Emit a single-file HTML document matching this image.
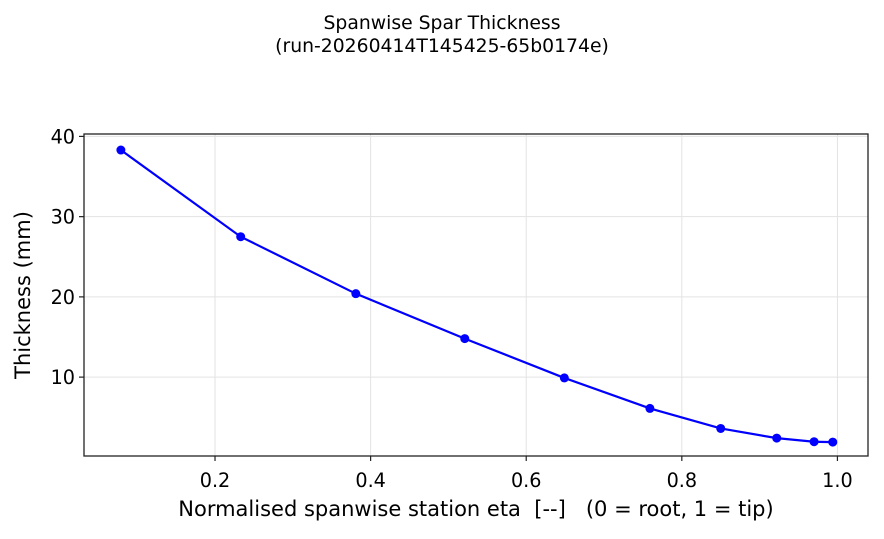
<!DOCTYPE html>
<html><head><meta charset="utf-8"><style>
body{margin:0;background:#fff;}
svg text{font-family:"DejaVu Sans","Liberation Sans",sans-serif;fill:#000;white-space:pre;}
</style></head><body>
<svg width="884" height="534" viewBox="0 0 884 534">
<text x="442" y="29" text-anchor="middle" font-size="18.8">Spanwise Spar Thickness</text>
<text x="442" y="52" text-anchor="middle" font-size="18.8">(run-20260414T145425-65b0174e)</text>
<g id="grid"></g>
<g id="ticks"></g>
<g id="series"></g>
<rect x="84" y="134" width="784" height="322" fill="none" stroke="#222" stroke-width="1.3"/>
<text x="476" y="516" text-anchor="middle" font-size="21" xml:space="preserve">Normalised spanwise station eta  [--]   (0 = root, 1 = tip)</text>
<text transform="translate(30,295) rotate(-90)" text-anchor="middle" font-size="21">Thickness (mm)</text>
</svg>
<script>
const eta=[0.079,0.233,0.381,0.521,0.649,0.759,0.850,0.922,0.970,0.994];
const thickness=[38.3,27.5,20.4,14.8,9.9,6.1,3.6,2.4,1.95,1.9];
const xTicks=[0.2,0.4,0.6,0.8,1.0];
const xTickLabels=["0.2","0.4","0.6","0.8","1.0"];
const yTicks=[10,20,30,40];
const yTickLabels=["10","20","30","40"];
const L=84,R=868,T=134,B=456;
const xmin=0.0316,xmax=1.0393,ymin=0.17,ymax=40.3;
const X=v=>L+(v-xmin)/(xmax-xmin)*(R-L);
const Y=v=>B-(v-ymin)/(ymax-ymin)*(B-T);
const NS="http://www.w3.org/2000/svg";
function mk(t,a,p){const e=document.createElementNS(NS,t);for(const k in a)e.setAttribute(k,a[k]);p.appendChild(e);return e;}
const g=document.getElementById('grid'),tk=document.getElementById('ticks'),s=document.getElementById('series');
xTicks.forEach((v,i)=>{
 const l=mk('line',{x1:X(v),x2:X(v),y1:T,y2:B,stroke:'#e3e3e3','stroke-width':1},g);
 
 
 const t=mk('line',{x1:X(v),x2:X(v),y1:B,y2:B+5,stroke:'#222','stroke-width':1.2},tk);
 
 
 const tx=mk('text',{x:X(v),y:B+31,'text-anchor':'middle','font-size':19.2},tk);
 tx.textContent=xTickLabels[i];
 
 
});
yTicks.forEach((v,i)=>{
 const l=mk('line',{x1:L,x2:R,y1:Y(v),y2:Y(v),stroke:'#e3e3e3','stroke-width':1},g);
 
 
 const t=mk('line',{x1:L-5,x2:L,y1:Y(v),y2:Y(v),stroke:'#222','stroke-width':1.2},tk);
 
 
 const tx=mk('text',{x:L-9,y:Y(v)+7,'text-anchor':'end','font-size':19.2},tk);
 tx.textContent=yTickLabels[i];
 
 
});
const pl=mk('polyline',{points:eta.map((v,i)=>X(v)+','+Y(thickness[i])).join(' '),fill:'none',stroke:'#0000ff','stroke-width':2.2},s);


eta.forEach((v,i)=>{
 const c=mk('circle',{cx:X(v),cy:Y(thickness[i]),r:4.5,fill:'#0000ff'},s);
 
 
});
</script>
</body></html>
